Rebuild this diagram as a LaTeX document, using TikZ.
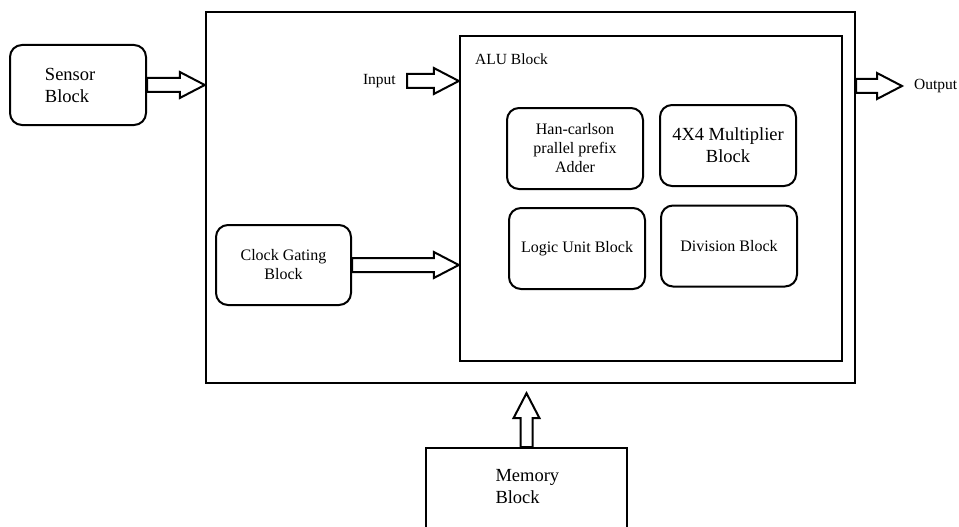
\documentclass[tikz,border=0pt]{standalone}
\usepackage{fontspec}
\setmainfont{Liberation Serif}
\usetikzlibrary{calc}

\def\shaftw{7pt}
\def\headw{13pt}
\def\headl{25pt}
\def\lgfont{\fontsize{18.5}{22}\selectfont}
\def\smfont{\fontsize{15.5}{18}\selectfont}

% block arrows: tail point, tip point
\newcommand{\hblockarrow}[2]{%
  \draw[barrow] let \p1=(#1), \p2=(#2) in
  (\x1,\y1+\shaftw) -- (\x2-\headl,\y1+\shaftw) -- (\x2-\headl,\y1+\headw)
  -- (\x2,\y1) -- (\x2-\headl,\y1-\headw) -- (\x2-\headl,\y1-\shaftw)
  -- (\x1,\y1-\shaftw) -- cycle;}
\newcommand{\vblockarrow}[2]{%
  \draw[barrow] let \p1=(#1), \p2=(#2) in
  (\x1-6pt,\y1) -- (\x1-6pt,\y2-\headl) -- (\x1-\headw,\y2-\headl)
  -- (\x1,\y2) -- (\x1+\headw,\y2-\headl) -- (\x1+6pt,\y2-\headl)
  -- (\x1+6pt,\y1) -- cycle;}

\begin{document}
\begin{tikzpicture}[x=1pt,y=-1pt,font=\fontsize{16}{19}\selectfont]
  \tikzstyle{frame}=[draw,line width=2.4pt,inner sep=0pt]
  \tikzstyle{rblock}=[draw,line width=2pt,rounded corners=12pt,minimum width=136pt,
    minimum height=81pt,align=center,inner sep=2pt]
  \tikzstyle{barrow}=[draw,line width=2pt,line join=miter]
  \tikzstyle{tag}=[inner sep=1pt,font=\smfont]

  \useasboundingbox (0,0) rectangle (959,527);
  \clip (0,0) rectangle (959,527);

  % Draw the system and ALU frames
  \node[frame,minimum width=649pt,minimum height=371pt] (system) at (530.5,197.5) {};
  \node[frame,minimum width=382pt,minimum height=325pt] (alu) at (651,198.5) {};
  \node[tag,anchor=west] (alul) at (474,59) {ALU Block};

  % Draw the blocks inside the ALU
  \node[rblock] (adder) at (575,148.5) {Han-carlson\\prallel prefix\\Adder};
  \node[rblock,font=\lgfont] (mult) at (728,145.5) {4X4 Multiplier\\Block};
  \node[rblock] (logic) at (577,248.5) {Logic Unit Block};
  \node[rblock] (div) at (729,246) {Division Block};

  % Draw the clock gating block
  \node[rblock,minimum width=135pt,minimum height=80pt] (clock) at (283.5,265) {Clock Gating\\Block};

  % Draw the outside blocks
  \node[rblock,font=\lgfont,align=left,text width=66pt,inner xsep=35pt,
    minimum height=80pt] (sensor) at (78,85) {Sensor\\Block};
  \node[frame,line width=2pt,font=\lgfont,align=left,text width=62pt,inner xsep=69.5pt,
    inner ysep=21pt,text depth=60pt,anchor=north] (memory) at (526.5,447) {Memory\\Block};

  \node[tag,anchor=east] (input) at (397,81) {Input};
  \node[tag,anchor=west] (output) at (913,86) {Output};

  % Connect the blocks
  \hblockarrow{sensor.east}{system.west |- sensor.east}
  \hblockarrow{[xshift=10pt]input.east}{alu.west |- input.east}
  \hblockarrow{clock.east}{alu.west |- clock.east}
  \hblockarrow{system.east |- output.west}{[xshift=-11pt]output.west}
  \vblockarrow{memory.north}{$(memory.north |- system.south)+(0,9)$}
\end{tikzpicture}
\end{document}
